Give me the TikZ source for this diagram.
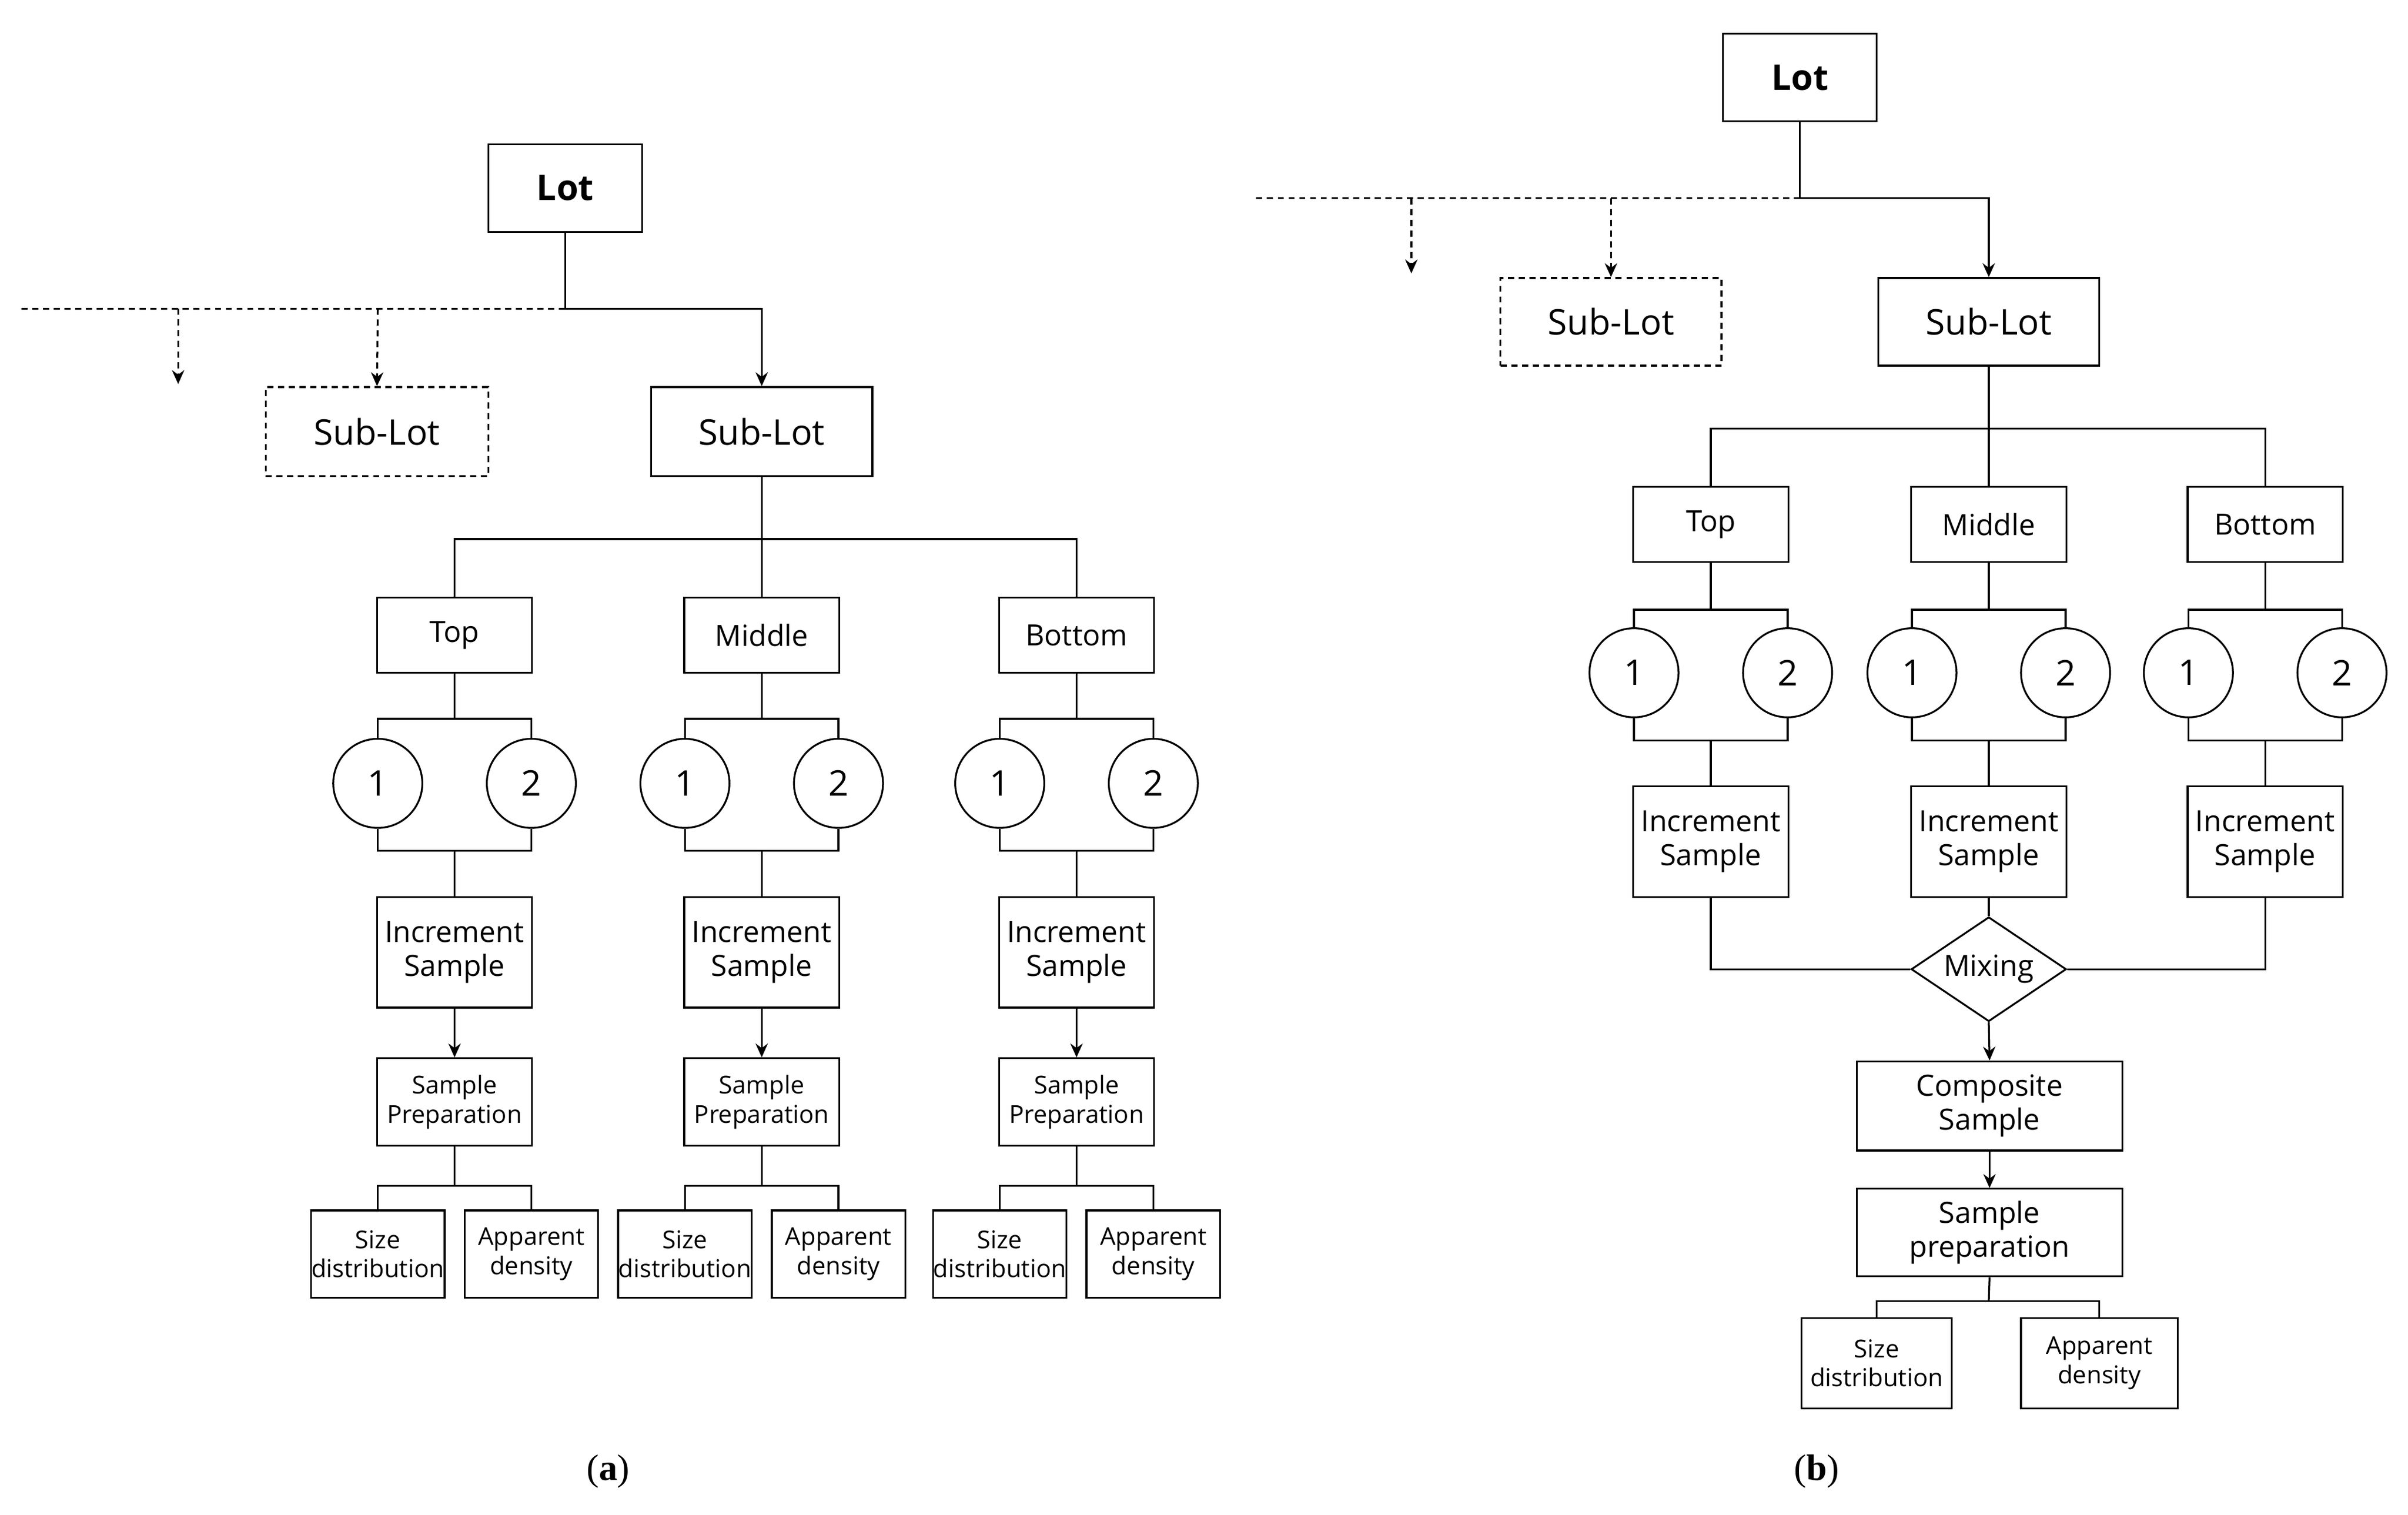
\documentclass[tikz,border=0pt]{standalone}
\usepackage{fontspec}
\setmainfont{Liberation Serif}
\newfontfamily\sfx{Open Sans}
\usetikzlibrary{shapes.geometric,arrows.meta}
\begin{document}
\begin{tikzpicture}[x=1pt,y=-1pt,line width=1.2pt,
 box/.style={draw,rectangle,inner sep=0pt,align=center,font=\sfx\fontsize{19}{22}\selectfont},
 big/.style={box,font=\sfx\fontsize{23}{26}\selectfont},
 sm/.style={box,font=\sfx\fontsize{16}{19}\selectfont},
 circ/.style={draw,circle,minimum size=58pt,inner sep=0pt,font=\sfx\fontsize{23}{26}\selectfont},
 arr/.style={-{Stealth[length=9pt,width=8pt]}},
 dsh/.style={dash pattern=on 4pt off 3pt}]
\useasboundingbox (0,0) rectangle (1568,986);
% ---------- (a)
\node[big,minimum width=100pt,minimum height=57pt,font=\sfx\bfseries\fontsize{23}{26}\selectfont] (LA) at (368,122.5) {Lot};
\node[big,minimum width=145pt,minimum height=58pt,dsh] (SLA1) at (245.5,281) {Sub-Lot};
\node[big,minimum width=144pt,minimum height=58pt] (SLA) at (496,281) {Sub-Lot};
\coordinate (ja) at (368,201);
\coordinate (da1) at (116,201);\coordinate (da1e) at (116,250);
\coordinate (da2) at (246,201);
\coordinate (dla) at (14,201);
\draw (LA.south) -- (ja);
\draw[dsh] (ja) -- (dla);
\draw[dsh,arr] (da1) -- (da1e);
\draw[dsh,arr] (da2) -- (SLA1.north);
\draw[arr] (ja) -| (SLA.north);
\coordinate (ha) at (496,351);
\draw (SLA.south) -- (ha);
\foreach \c/\n/\t in {296/1/Top,496/2/Middle,701/3/Bottom}{
 \node[box,minimum width=101pt,minimum height=49pt] (P\n) at (\c,413.5) {\t};
 \draw (ha) -| (P\n.north);
 \node[circ] (C\n a) at (\c-50,510) {1};
 \node[circ] (C\n b) at (\c+50,510) {2};
 \coordinate (T\n) at (\c,468); \coordinate (B\n) at (\c,554);
 \draw (P\n.south) -- (T\n);
 \draw (C\n a.north) |- (T\n) -| (C\n b.north);
 \draw (C\n a.south) |- (B\n) -| (C\n b.south);
 \node[box,minimum width=101pt,minimum height=72pt] (I\n) at (\c,620) {Increment\\Sample};
 \draw (B\n) -- (I\n.north);
 \node[sm,minimum width=101pt,minimum height=57pt] (S\n) at (\c,717.5) {Sample\\Preparation};
 \draw[arr] (I\n.south) -- (S\n.north);
 \node[sm,minimum width=87pt,minimum height=57pt] (D\n) at (\c-50,816.5) {Size\\distribution};
 \node[sm,minimum width=87pt,minimum height=57pt] (A\n) at (\c+50,816.5) {Apparent\\density};
 \coordinate (K\n) at (\c,772);
 \draw (S\n.south) -- (K\n);
 \draw (D\n.north) |- (K\n) -| (A\n.north);
}
\node[font=\fontsize{24}{28}\selectfont] (la) at (396,958) {(\textbf{a})};
% ---------- (b)
\node[big,minimum width=100pt,minimum height=57pt,font=\sfx\bfseries\fontsize{23}{26}\selectfont] (LB) at (1172,50.5) {Lot};
\node[big,minimum width=144pt,minimum height=57pt,dsh] (SLB1) at (1049,209.5) {Sub-Lot};
\node[big,minimum width=144pt,minimum height=57pt] (SLB) at (1295,209.5) {Sub-Lot};
\coordinate (jb) at (1172,129);
\coordinate (db1) at (919,129);\coordinate (db1e) at (919,178);
\coordinate (db2) at (1049,129);
\coordinate (dlb) at (818,129);
\draw (LB.south) -- (jb);
\draw[dsh] (jb) -- (dlb);
\draw[dsh,arr] (db1) -- (db1e);
\draw[dsh,arr] (db2) -- (SLB1.north);
\draw[arr] (jb) -| (SLB.north);
\coordinate (hb) at (1295,279);
\draw (SLB.south) -- (hb);
\foreach \c/\n/\t in {1114/4/Top,1295/5/Middle,1475/6/Bottom}{
 \node[box,minimum width=101pt,minimum height=49pt] (P\n) at (\c,341.5) {\t};
 \draw (hb) -| (P\n.north);
 \node[circ] (C\n a) at (\c-50,438) {1};
 \node[circ] (C\n b) at (\c+50,438) {2};
 \coordinate (T\n) at (\c,397); \coordinate (B\n) at (\c,482);
 \draw (P\n.south) -- (T\n);
 \draw (C\n a.north) |- (T\n) -| (C\n b.north);
 \draw (C\n a.south) |- (B\n) -| (C\n b.south);
 \node[box,minimum width=101pt,minimum height=72pt] (I\n) at (\c,548) {Increment\\Sample};
 \draw (B\n) -- (I\n.north);
}
\node[draw,diamond,minimum width=101pt,minimum height=68pt,inner sep=0pt,aspect=1.5,font=\sfx\fontsize{19}{22}\selectfont] (M) at (1295,631) {Mixing};
\draw (I4.south) |- (M.west);
\draw (I6.south) |- (M.east);
\draw (I5.south) -- (M.north);
\node[box,minimum width=173pt,minimum height=58pt] (CS) at (1295.5,720) {Composite\\Sample};
\draw[arr] (M.south) -- (CS.north);
\node[box,minimum width=173pt,minimum height=57pt] (SP) at (1295.5,802.5) {Sample\\preparation};
\draw[arr] (CS.south) -- (SP.north);
\node[sm,minimum width=98pt,minimum height=59pt] (D7) at (1222,887.5) {Size\\distribution};
\node[sm,minimum width=102pt,minimum height=59pt] (A7) at (1367,887.5) {Apparent\\density};
\coordinate (K7) at (1295,847);
\draw (SP.south) -- (K7);
\draw (D7.north) |- (K7) -| (A7.north);
\node[font=\fontsize{24}{28}\selectfont] (lb) at (1183,958) {(\textbf{b})};
\end{tikzpicture}
\end{document}
